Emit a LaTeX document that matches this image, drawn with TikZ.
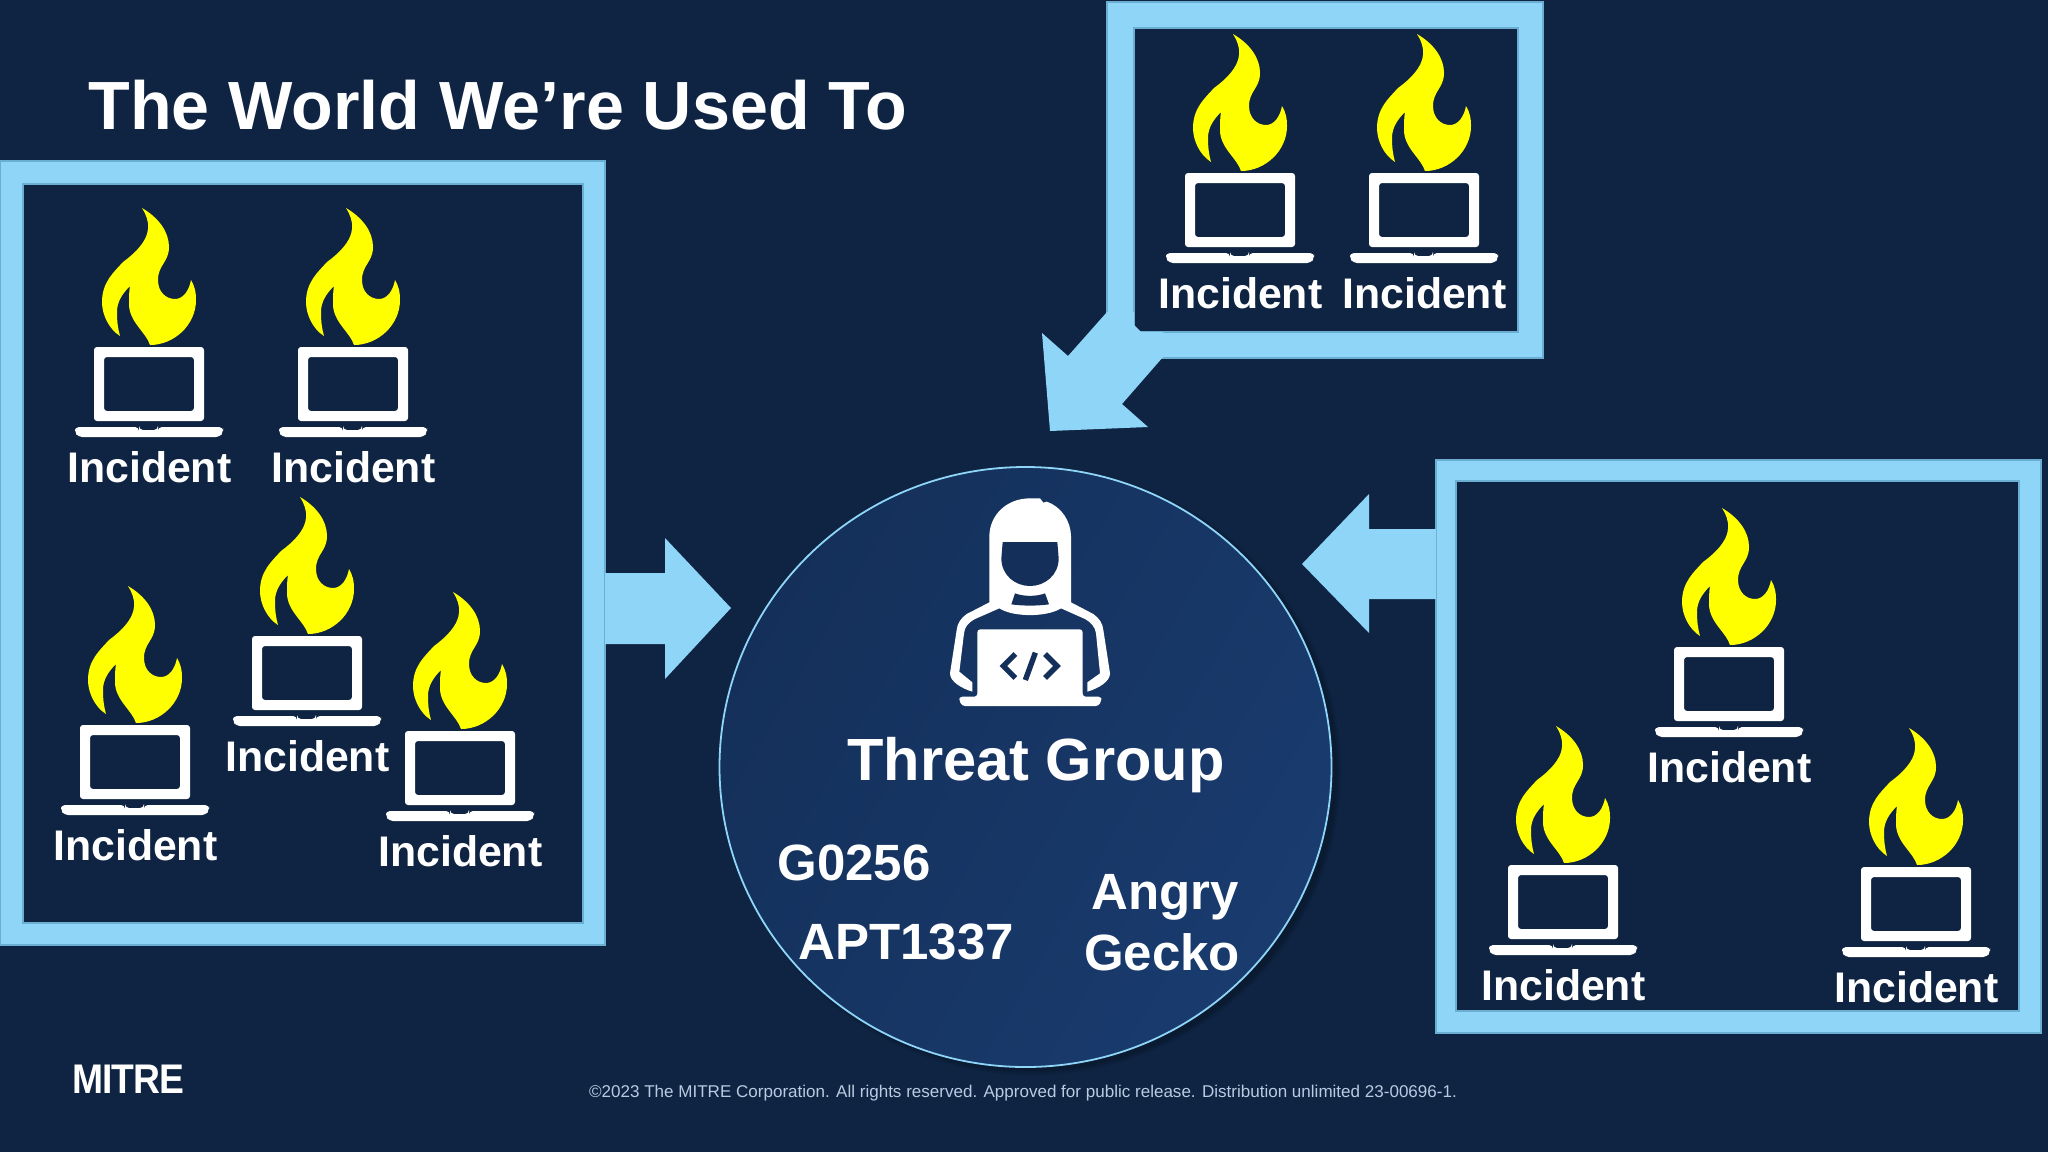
\documentclass[tikz,border=0pt]{standalone}
\usepackage{fontspec}
\usetikzlibrary{shapes.geometric}
\setmainfont{Liberation Sans}
\definecolor{bgblue}{HTML}{0E2442}
\definecolor{framelt}{HTML}{8ED5F8}
\definecolor{frameedge}{HTML}{6AAFD2}
\definecolor{flameyl}{HTML}{FFFF00}
\definecolor{circlea}{HTML}{14305A}
\definecolor{circleb}{HTML}{193B6E}
\definecolor{footgray}{HTML}{B8CBE0}
\newcommand{\pxfont}[1]{\fontsize{#1}{#1}\selectfont}
\tikzset{
  outerbox/.style={rectangle,anchor=north west,inner sep=0,outer sep=0,fill=framelt,draw=frameedge,line width=.6pt},
  innerbox/.style={rectangle,anchor=north west,inner sep=0,outer sep=0,fill=bgblue,draw=frameedge,line width=.8pt},
  blockarrow/.style={fill=framelt,draw=none},
  whitetext/.style={text=white,inner sep=0,font=\bfseries},
  incident/.pic={
    \fill[flameyl] (-7,-139) .. controls (10,-129) and (20,-115) .. (20,-100)
      .. controls (20,-85) and (9,-82) .. (9,-67)
      .. controls (9,-55) and (17,-48) .. (26,-48)
      .. controls (34,-48) and (40,-56) .. (42,-67)
      .. controls (46,-60) and (47,-55) .. (47,-47)
      .. controls (47,-22) and (25,-2) .. (1,-2)
      .. controls (-3,-15) and (-20,-25) .. (-20,-43)
      .. controls (-20,-50) and (-20,-55) .. (-19,-61)
      .. controls (-27,-53) and (-32,-45) .. (-32,-35)
      .. controls (-32,-25) and (-31,-18) .. (-29,-11)
      .. controls (-40,-18) and (-47,-32) .. (-47,-45)
      .. controls (-47,-65) and (-35,-75) .. (-26,-85)
      .. controls (-15,-93) and (-2,-105) .. (-1,-118)
      .. controls (0,-125) and (-3,-133) .. (-7,-139) -- cycle;
    \fill[white,rounded corners=1.5pt,even odd rule] (-55,0) rectangle (55,74) (-45,10) rectangle (45,64);
    \fill[white,rounded corners=2pt] (-74,80) -- (-74,85) -- (-71,90) -- (71,90) -- (74,85) -- (74,80) -- (9,80) -- (9,83) -- (-10,83) -- (-10,80) -- cycle;
    \node[whitetext,anchor=base,font=\bfseries\pxfont{21.4}] (-label) at (0.3,135.5) {Incident};
  }
}
\begin{document}
\begin{tikzpicture}[x=.5pt,y=-.5pt]
\useasboundingbox (0,0) rectangle (2048,1152);
\fill[bgblue] (0,0) rectangle (2048,1152);

% frames
\node[outerbox,minimum width=302.5pt,minimum height=392pt] (leftouter) at (0,161) {};
\node[innerbox,minimum width=280pt,minimum height=369.5pt] (leftinner) at (23,184) {};
\node[outerbox,minimum width=218pt,minimum height=178pt] (topouter) at (1107,2) {};
\node[innerbox,minimum width=192pt,minimum height=152pt] (topinner) at (1134,28) {};
\node[outerbox,minimum width=302.5pt,minimum height=286.5pt] (rightouter) at (1436,460) {};
\node[innerbox,minimum width=281.5pt,minimum height=265pt] (rightinner) at (1456,481) {};

% soft shadow and circle
\foreach \s/\o in {310/.06,308/.09,306/.12}
  \fill[black,opacity=\o] (1031,771) ellipse ({\s} and {\s-6});
\node[ellipse,minimum width=306pt,minimum height=300pt,inner sep=0,outer sep=0,draw=framelt,line width=.9pt,
  left color=circlea,right color=circleb,shading angle=60] (threat) at (1025.5,767) {};

% block arrows
\fill[blockarrow] (605,573) -- (665,573) -- (665,538) -- (731,608) -- (665,679) -- (665,644) -- (605,644) -- cycle;
\fill[blockarrow] (1436,529) -- (1369,529) -- (1369,494) -- (1302,564) -- (1369,633) -- (1369,599) -- (1436,599) -- cycle;
\fill[blockarrow] (1042,333) -- (1068,356) -- (1107,312) -- (1134,312) -- (1134,325) -- (1141,332) -- (1163,332) -- (1163,357) -- (1122,404) -- (1148,427) -- (1050,431) -- cycle;

% incidents
\pic (i1) at (149,347) {incident};
\pic (i2) at (353,347) {incident};
\pic (i3) at (307,636) {incident};
\pic (i4) at (135,725) {incident};
\pic (i5) at (460,731) {incident};
\pic (i6) at (1240,173) {incident};
\pic (i7) at (1424,173) {incident};
\pic (i8) at (1729,647) {incident};
\pic (i9) at (1563,865) {incident};
\pic (i10) at (1916,867) {incident};

% person icon
\begin{scope}[shift={(900,470)},x=.16667pt,y=-.16667pt]
\fill[white] (268,200) .. controls (268,135) and (320,85) .. (390,85)
  -- (420,85) -- (430,98) -- (440,95) .. controls (485,110) and (513,155) .. (513,200)
  -- (513,397) -- (580,432) .. controls (598,445) and (608,460) .. (610,480)
  -- (630,610) .. controls (630,635) and (595,655) .. (562,665) -- (562,637)
  -- (600,610) -- (588,490) .. controls (586,470) and (570,455) .. (555,447)
  -- (483,415) .. controls (440,442) and (340,442) .. (298,415)
  -- (225,447) .. controls (205,458) and (194,470) .. (192,490)
  -- (178,605) -- (217,637) -- (217,665) .. controls (185,655) and (150,635) .. (150,610)
  -- (170,480) .. controls (172,460) and (182,445) .. (200,432) -- (268,397) -- cycle;
\fill[circlea] (308,216) -- (472,216) -- (476,265) .. controls (476,315) and (435,348) .. (390,348)
  .. controls (345,348) and (304,315) .. (304,265) -- cycle;
\fill[circlea] (345,370) .. controls (370,380) and (410,380) .. (435,370) -- (447,403)
  .. controls (410,408) and (370,408) .. (334,403) -- cycle;
\fill[white,rounded corners=1.5pt] (232,680) -- (232,478) -- (548,478) -- (548,680) -- (604,680) -- (604,692) -- (596,708) -- (186,708) -- (178,692) -- (178,680) -- cycle;
\draw[circlea,line width=2.7pt] (346,552) -- (310,588) -- (346,624);
\draw[circlea,line width=2.7pt] (406,548) -- (376,630);
\draw[circlea,line width=2.7pt] (435,552) -- (471,588) -- (435,624);
\end{scope}

% text
\node[whitetext,anchor=base west,font=\bfseries\pxfont{34.1}] (title) at (88,129) {The World We’re Used To};
\node[whitetext,anchor=base,font=\bfseries\pxfont{29.8}] (tg) at (1036,780) {Threat Group};
\node[whitetext,anchor=base west,font=\bfseries\pxfont{25.5}] (gid) at (777,880) {G0256};
\node[whitetext,anchor=base west,font=\bfseries\pxfont{25.5}] (apt) at (798,959) {APT1337};
\node[whitetext,anchor=base,font=\bfseries\pxfont{25.5}] (angry) at (1165,909) {Angry};
\node[whitetext,anchor=base,font=\bfseries\pxfont{25.5}] (gecko) at (1162,970) {Gecko};
\node[whitetext,anchor=base west,font=\bfseries\pxfont{20.7}\addfontfeature{LetterSpace=-3}] (logo) at (72,1093) {\scalebox{.9}[1]{MITRE}};
\node[text=footgray,inner sep=0,anchor=base,font=\pxfont{8.52}] (foot) at (1023,1097) {©2023 The MITRE Corporation. All rights reserved. Approved for public release. Distribution unlimited 23-00696-1.};
\end{tikzpicture}
\end{document}
